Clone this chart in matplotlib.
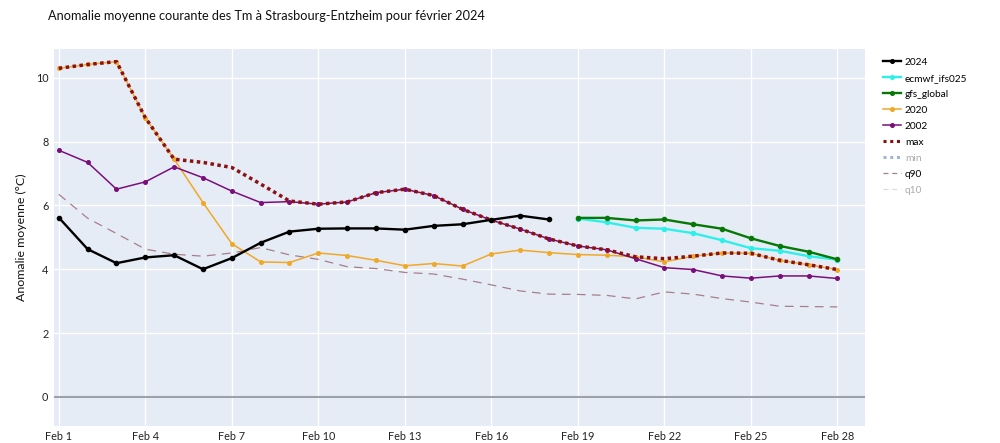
import pandas as pd
import matplotlib
matplotlib.use("Agg")
import matplotlib.pyplot as plt
from matplotlib.lines import Line2D

plt.rcParams['font.family'] = ['Lato', 'DejaVu Sans']

days = pd.date_range("2024-02-01", "2024-02-28", freq="D")
fc_days = days[18:]

obs_2024 = [5.62, 4.63, 4.19, 4.37, 4.44, 4.00, 4.35, 4.83, 5.18, 5.27, 5.28, 5.28,
            5.24, 5.36, 5.41, 5.55, 5.68, 5.56]
ecmwf = [5.59, 5.47, 5.30, 5.27, 5.13, 4.91, 4.66, 4.58, 4.41, 4.30]
gfs = [5.61, 5.61, 5.53, 5.56, 5.41, 5.27, 4.97, 4.73, 4.55, 4.31]
y2020 = [10.30, 10.42, 10.51, 8.75, 7.45, 6.09, 4.80, 4.23, 4.21, 4.51, 4.43, 4.28,
         4.11, 4.18, 4.10, 4.48, 4.60, 4.52, 4.46, 4.44, 4.39, 4.23, 4.41, 4.51,
         4.50, 4.28, 4.14, 3.99]
y2002 = [7.73, 7.35, 6.51, 6.74, 7.21, 6.87, 6.45, 6.09, 6.12, 6.04, 6.11, 6.40,
         6.51, 6.31, 5.88, 5.54, 5.26, 4.95, 4.73, 4.61, 4.33, 4.05, 3.99, 3.79,
         3.72, 3.79, 3.79, 3.71]
vmax = [10.30, 10.42, 10.51, 8.75, 7.45, 7.35, 7.19, 6.67, 6.14, 6.04, 6.11, 6.40,
        6.51, 6.31, 5.88, 5.54, 5.26, 4.95, 4.73, 4.61, 4.39, 4.33, 4.41, 4.51,
        4.50, 4.28, 4.14, 3.99]
q90 = [6.35, 5.60, 5.12, 4.63, 4.47, 4.41, 4.51, 4.68, 4.45, 4.31, 4.08, 4.02,
       3.90, 3.85, 3.69, 3.51, 3.32, 3.22, 3.21, 3.18, 3.07, 3.29, 3.22, 3.08,
       2.97, 2.84, 2.83, 2.82]

tick_days = days[::3]
tick_labels = [f"Feb {d.day}" for d in tick_days]

fig = plt.figure(figsize=(10, 4.43), dpi=100)
ax = fig.add_axes([0.054, 0.038, 0.811, 0.851])
ax.set_facecolor("#E5ECF6")
for s in ax.spines.values():
    s.set_visible(False)
ax.grid(True, color="white", linewidth=1)
ax.set_axisbelow(True)
ax.axhline(0, color="#9aa3ab", linewidth=1.5, zorder=1)

ax.plot(days[:18], obs_2024, color="black", lw=1.7, marker="o", ms=3, label="2024", zorder=5)
ax.plot(fc_days, ecmwf, color="#2EF0E8", lw=1.7, marker="o", ms=3, label="ecmwf_ifs025", zorder=5)
ax.plot(fc_days, gfs, color="#067806", lw=1.7, marker="o", ms=3, label="gfs_global", zorder=5)
ax.plot(days, y2020, color="#F0A827", lw=1.1, marker="o", ms=2.6, label="2020", zorder=3)
ax.plot(days, y2002, color="#7a0f7a", lw=1.1, marker="o", ms=2.6, label="2002", zorder=3)
ax.plot(days, vmax, color="#8B1010", lw=2.5, dashes=(1, 1), dash_capstyle="butt", label="max", zorder=4)
ax.plot(days, q90, color="#a67f8c", lw=0.9, dashes=(7, 5), label="q90", zorder=2)

ax.set_xlim(days[0] - pd.Timedelta(hours=4), days[-1] + pd.Timedelta(hours=23))
ax.set_ylim(-0.92, 10.9)
ax.set_yticks([0, 2, 4, 6, 8, 10])
ax.set_xticks(tick_days)
ax.set_xticklabels(tick_labels)
ax.tick_params(length=0, labelsize=7.8, colors="#222222")
ax.tick_params(axis="x", pad=3.5)
ax.tick_params(axis="y", pad=4)
ax.set_ylabel("Anomalie moyenne (°C)", fontsize=8.9, color="#111111")
ax.yaxis.set_label_coords(-0.033, 0.5)

fig.text(0.048, 0.965, "Anomalie moyenne courante des Tm à Strasbourg-Entzheim pour février 2024",
         fontsize=9.2, color="#111111", va="center")

handles = [
    Line2D([], [], color="black", lw=1.7, marker="o", ms=2.6),
    Line2D([], [], color="#2EF0E8", lw=1.7, marker="o", ms=2.6),
    Line2D([], [], color="#067806", lw=1.7, marker="o", ms=2.6),
    Line2D([], [], color="#F0A827", lw=1.1, marker="o", ms=2.6),
    Line2D([], [], color="#7a0f7a", lw=1.1, marker="o", ms=2.6),
    Line2D([], [], color="#8B1010", lw=2.2, dashes=(1, 1.2), dash_capstyle="butt"),
    Line2D([], [], color="#9fb8d0", lw=2.2, dashes=(1, 1.2), dash_capstyle="butt"),
    Line2D([], [], color="#a67f8c", lw=0.9, dashes=(4, 3)),
    Line2D([], [], color="#dddddd", lw=0.9, dashes=(4, 3)),
]
labels = ["2024", "ecmwf_ifs025", "gfs_global", "2020", "2002", "max", "min", "q90", "q10"]
leg = fig.legend(handles, labels, loc="upper left", bbox_to_anchor=(0.883, 0.87),
                 frameon=False, fontsize=7.3, handlelength=1.75, handletextpad=0.4,
                 labelspacing=0.68, borderaxespad=0, borderpad=0)
for t in leg.get_texts():
    if t.get_text() in ("min", "q10"):
        t.set_color("#aaaaaa")

fig.savefig("out.png", dpi=100, facecolor="white")
